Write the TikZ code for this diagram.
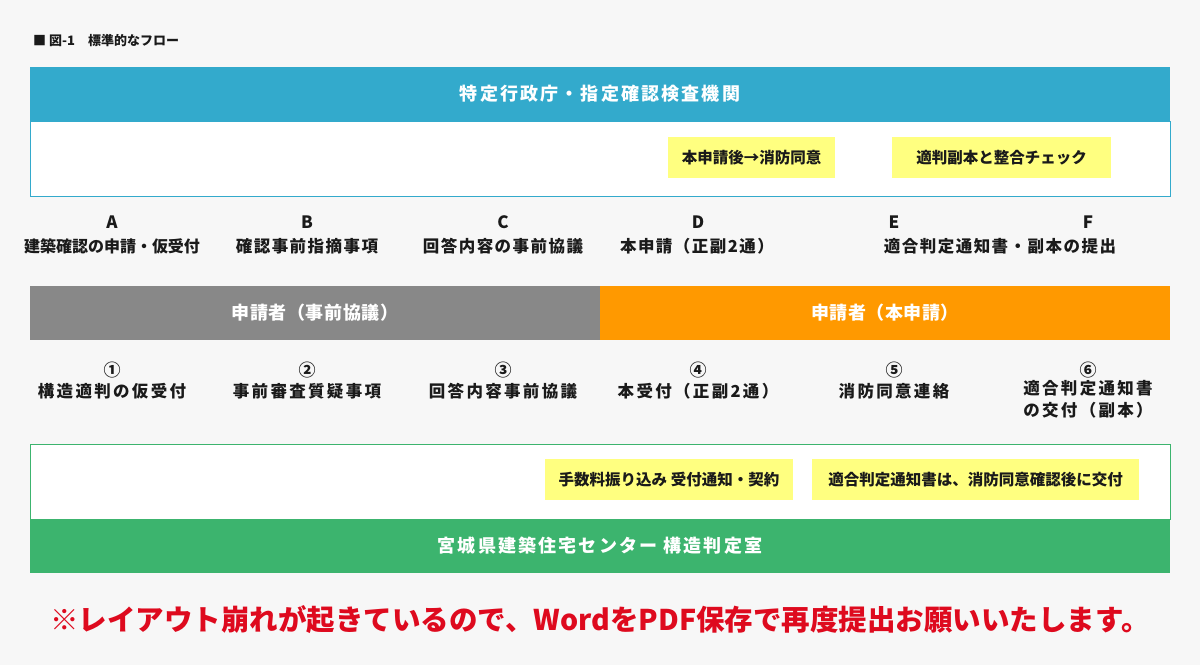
\documentclass[tikz,border=0pt]{standalone}
\usepackage{fontspec}
\setmainfont{Noto Sans CJK JP}
\usepackage{tikz}
\usetikzlibrary{shapes,arrows,positioning}
\definecolor{pagebg}{RGB}{247,247,247}
\definecolor{govblue}{RGB}{51,170,204}
\definecolor{pregray}{RGB}{136,136,136}
\definecolor{mainorange}{RGB}{255,153,0}
\definecolor{centergreen}{RGB}{60,180,110}
\definecolor{notey}{RGB}{255,255,128}
\definecolor{alertred}{RGB}{222,10,30}
\definecolor{ink}{RGB}{26,26,26}
\tikzstyle{bodybox} = [rectangle, fill=white, line width=1pt, inner sep=0pt, minimum width=1140pt, minimum height=75pt]
\tikzstyle{headbar} = [rectangle, inner sep=0pt, minimum width=1140pt, minimum height=54pt, text=white, font=\bfseries\fontsize{18}{20}\selectfont\addfontfeature{LetterSpace=12}]
\tikzstyle{bar} = [rectangle, inner sep=0pt, minimum width=570pt, minimum height=54pt, text=white, font=\bfseries\fontsize{18}{20}\selectfont\addfontfeature{LetterSpace=3}]
\tikzstyle{note} = [rectangle, fill=notey, inner sep=0pt, minimum height=41pt, text=ink, font=\bfseries\fontsize{15.5}{17}\selectfont]
\tikzstyle{stepid} = [inner sep=0pt, text=ink, font=\bfseries\fontsize{17}{18}\selectfont]
\tikzstyle{steplbl} = [inner sep=0pt, text=ink, align=center, font=\bfseries\fontsize{16.5}{22}\selectfont\addfontfeature{LetterSpace=9}]
\tikzstyle{subslbl} = [inner sep=0pt, text=ink, align=center, font=\bfseries\fontsize{16.5}{22}\selectfont\addfontfeature{LetterSpace=14}]

\begin{document}
\begin{tikzpicture}[x=1pt, y=-1pt]
			\fill [pagebg] (0,0) rectangle (1200,665);
			\useasboundingbox (0,0) rectangle (1200,665);
			\node [anchor=west, inner sep=0pt, text=ink, font=\bfseries\fontsize{13}{14}\selectfont] (title) at (33,41) {■ 図-1\quad 標準的なフロー};
			
			% 特定行政庁
			\node [bodybox, draw=govblue] (govbody) at (600,158.5) {};
			\node [headbar, fill=govblue] (govhead) at (600,94) {特定行政庁・指定確認検査機関};
			\node [note, minimum width=167pt] (fire) at (751.5,157.5) {本申請後→消防同意};
			\node [note, minimum width=219pt] (check) at (1001.5,157.5) {適判副本と整合チェック};
			
			\node [stepid] (A) at (112,222) {A};
			\node [stepid] (B) at (307,222) {B};
			\node [stepid] (C) at (503,222) {C};
			\node [stepid] (D) at (698,222) {D};
			\node [stepid] (E) at (894,222) {E};
			\node [stepid] (F) at (1088,222) {F};
			\node [steplbl, font=\bfseries\fontsize{16}{22}\selectfont] (a) at (112,246) {建築確認の申請・仮受付};
			\node [steplbl] (b) at (307,246) {確認事前指摘事項};
			\node [steplbl] (c) at (503,246) {回答内容の事前協議};
			\node [steplbl] (d) at (697,246) {本申請（正副2通）};
			\node [steplbl] (ef) at (1000,246) {適合判定通知書・副本の提出};
			
			% 申請者
			\node [bar, fill=pregray] (pre) at (315,313) {申請者（事前協議）};
			\node [bar, fill=mainorange] (main) at (885,313) {申請者（本申請）};
			
			\node [stepid] (n1) at (112,370) {①};
			\node [stepid] (n2) at (307,370) {②};
			\node [stepid] (n3) at (503,370) {③};
			\node [stepid] (n4) at (698,370) {④};
			\node [stepid] (n5) at (894,370) {⑤};
			\node [stepid] (n6) at (1088,370) {⑥};
			\node [subslbl] (s1) at (112,391) {構造適判の仮受付};
			\node [subslbl] (s2) at (307,391) {事前審査質疑事項};
			\node [subslbl] (s3) at (503,391) {回答内容事前協議};
			\node [subslbl] (s4) at (698,391) {本受付（正副2通）};
			\node [subslbl] (s5) at (894,391) {消防同意連絡};
			\node [subslbl, anchor=north] (s6) at (1088,380) {適合判定通知書\\の交付（副本）};
			
			% 構造判定室
			\node [bodybox, draw=centergreen] (ctrbody) at (600,481.5) {};
			\node [headbar, fill=centergreen] (ctrhead) at (600,546) {宮城県建築住宅センター 構造判定室};
			\node [note, minimum width=248pt] (fee) at (669,479.5) {手数料振り込み 受付通知・契約};
			\node [note, minimum width=327pt] (issue) at (975.5,479.5) {適合判定通知書は、消防同意確認後に交付};
			
			\node [inner sep=0pt, text=alertred, font=\bfseries\fontsize{28.5}{30}\selectfont] (alert) at (600,620) {※レイアウト崩れが起きているので、WordをPDF保存で再度提出お願いいたします。};
		\end{tikzpicture}
\end{document}
